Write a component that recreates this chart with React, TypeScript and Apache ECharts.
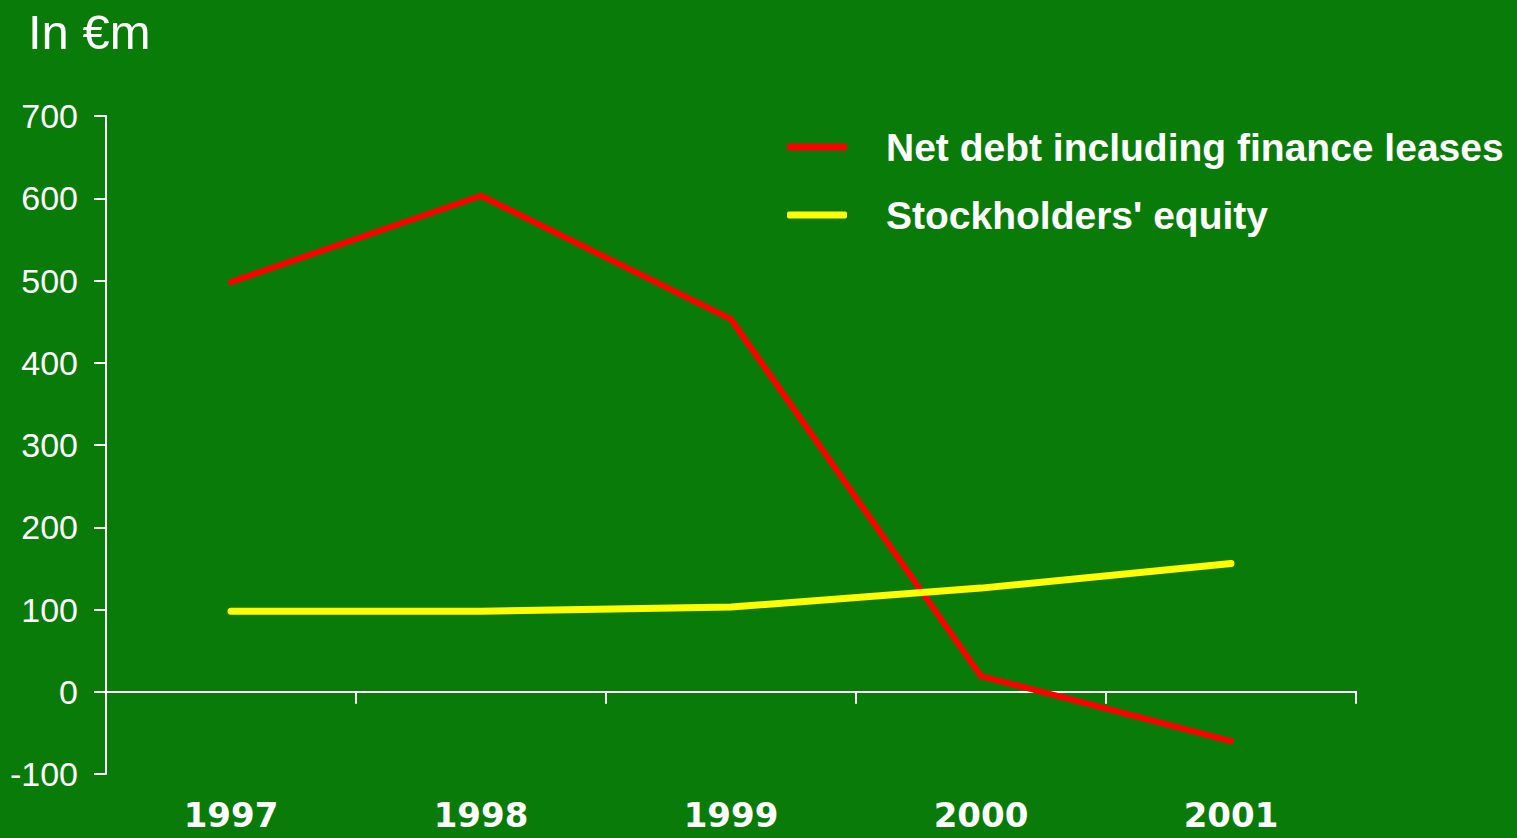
import React, { useEffect, useRef } from "react";
import * as echarts from "echarts";

const years = ["1997", "1998", "1999", "2000", "2001"];
const netDebt = [498, 603, 453, 19, -60];
const equity = [98, 98, 103, 126, 156];
const seriesNames = ["Net debt including finance leases", "Stockholders' equity"];
const titleText = "In €m";

export default function App() {
  const ref = useRef<HTMLDivElement>(null);
  useEffect(() => {
    if (!ref.current) return;
    const chart = echarts.init(ref.current, null, { renderer: "svg" });
    chart.setOption({
      animation: false,
      backgroundColor: "#097b08",
      title: {
        text: titleText,
        left: 23,
        top: 2,
        textStyle: { color: "#ffffff", fontSize: 49, fontWeight: "normal", fontFamily: "Liberation Sans" },
      },
      legend: {
        orient: "vertical",
        left: 782,
        top: 122,
        itemWidth: 60,
        itemHeight: 7,
        itemGap: 28,
        icon: "roundRect",
        textStyle: {
          color: "#ffffff",
          fontSize: 39,
          fontWeight: "bold",
          fontFamily: "Liberation Sans",
          lineHeight: 40,
          padding: [0, 0, 0, 34],
        },
        data: seriesNames,
      },
      grid: { left: 106, right: 161, top: 116, bottom: 64, containLabel: false, outerBoundsMode: "none" },
      xAxis: {
        type: "category",
        data: years,
        boundaryGap: true,
        axisLine: { show: true, onZero: true, lineStyle: { color: "#ffffff", width: 2 } },
        axisTick: { show: true, inside: false, length: 12, alignWithLabel: false, lineStyle: { color: "#ffffff", width: 2 } },
        axisLabel: {
          color: "#ffffff",
          fontSize: 34,
          fontWeight: "bold",
          fontFamily: "DejaVu Sans",
          margin: 24,
        },
        splitLine: { show: false },
      },
      yAxis: {
        type: "value",
        min: -100,
        max: 700,
        interval: 100,
        axisLine: { show: true, lineStyle: { color: "#ffffff", width: 2 } },
        axisTick: { show: true, length: 12, lineStyle: { color: "#ffffff", width: 2 } },
        axisLabel: { color: "#ffffff", fontSize: 34, fontFamily: "Liberation Sans", margin: 28 },
        splitLine: { show: false },
      },
      series: [
        {
          name: seriesNames[0],
          type: "line",
          data: netDebt,
          symbol: "none",
          color: "#ff0000",
          lineStyle: { color: "#ff0000", width: 6, cap: "round", join: "round" },
        },
        {
          name: seriesNames[1],
          type: "line",
          data: equity,
          symbol: "none",
          color: "#ffff00",
          lineStyle: { color: "#ffff00", width: 7, cap: "round", join: "round" },
        },
      ],
    });
    return () => chart.dispose();
  }, []);
  return <div ref={ref} style={{ position: "absolute", left: 0, top: 0, width: 1517, height: 838 }} />;
}
